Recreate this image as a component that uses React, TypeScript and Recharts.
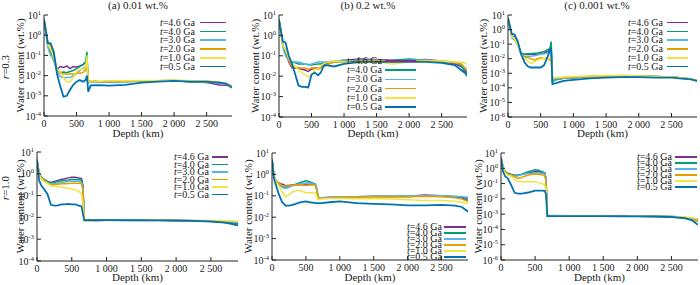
import React from 'react';
import { LineChart, Line, XAxis, YAxis, Legend } from 'recharts';

const SERIF = '"Liberation Serif", "DejaVu Serif", serif';
const INK = '#222';

// sampled depths (km), shared by every profile
const depthKm = [0, 30, 60, 100, 150, 200, 250, 300, 350, 400, 450, 500, 550, 600, 640, 660, 680, 720, 850, 1000, 1250, 1500, 1750, 2000, 2250, 2500, 2700, 2800, 2890];
const times = ['4.6', '4.0', '3.0', '2.0', '1.0', '0.5'];
const lineColors = ['#7e2f8e', '#009e73', '#56b4e9', '#e69f00', '#f0e442', '#0072b2'];
const depthTicks = [0, 500, 1000, 1500, 2000, 2500];
const ticksTo1e4 = [1e-4, 1e-3, 1e-2, 1e-1, 1, 10];
const ticksTo1e6 = [1e-6, 1e-5, 1e-4, 1e-3, 1e-2, 1e-1, 1, 10];
const titles = ['(a) 0.01 wt.%', '(b) 0.2 wt.%', '(c) 0.001 wt.%'];

// (a) r=0.3, 0.01 wt.%
const a46 = [6, 1.5, 0.3, 0.15, 0.06, 0.02, 0.028, 0.025, 0.03, 0.022, 0.028, 0.026, 0.03, 0.035, 0.045, 0.06, 0.005, 0.0055, 0.005, 0.005, 0.0052, 0.0055, 0.0055, 0.0058, 0.005, 0.0045, 0.0034, 0.0033, 0.003];
const a40 = [6, 1.5, 0.3, 0.15, 0.06, 0.02, 0.014, 0.015, 0.014, 0.016, 0.018, 0.022, 0.028, 0.035, 0.05, 0.15, 0.005, 0.0055, 0.005, 0.005, 0.005, 0.0055, 0.0055, 0.0055, 0.005, 0.0048, 0.0045, 0.004, 0.0028];
const a30 = [6, 1.4, 0.25, 0.1, 0.07, 0.015, 0.009, 0.008, 0.008, 0.008, 0.01, 0.012, 0.018, 0.022, 0.028, 0.04, 0.0045, 0.005, 0.0048, 0.0048, 0.005, 0.0052, 0.0055, 0.0055, 0.005, 0.0048, 0.0042, 0.0038, 0.003];
const a20 = [6, 1.6, 0.35, 0.35, 0.1, 0.02, 0.013, 0.012, 0.012, 0.012, 0.012, 0.013, 0.013, 0.014, 0.02, 0.05, 0.005, 0.0055, 0.005, 0.0052, 0.0052, 0.0055, 0.0055, 0.0058, 0.0052, 0.005, 0.0045, 0.004, 0.003];
const a10 = [6, 1.6, 0.35, 0.2, 0.08, 0.02, 0.016, 0.008, 0.005, 0.005, 0.008, 0.015, 0.02, 0.02, 0.025, 0.1, 0.005, 0.0055, 0.0052, 0.0055, 0.0055, 0.0058, 0.0058, 0.006, 0.0055, 0.0055, 0.0048, 0.004, 0.0025];
const a05 = [6, 1.6, 0.4, 0.4, 0.15, 0.012, 0.003, 0.0009, 0.001, 0.002, 0.0035, 0.005, 0.006, 0.005, 0.006, 0.01, 0.0016, 0.0033, 0.0034, 0.0032, 0.0035, 0.0045, 0.005, 0.0055, 0.005, 0.005, 0.0045, 0.004, 0.0025];

// (b) r=0.3, 0.2 wt.%
const b46 = [6, 1.5, 0.3, 0.15, 0.05, 0.025, 0.025, 0.025, 0.022, 0.02, 0.017, 0.022, 0.025, 0.025, 0.028, 0.03, 0.035, 0.04, 0.05, 0.06, 0.07, 0.065, 0.06, 0.06, 0.065, 0.055, 0.04, 0.03, 0.015];
const b40 = [6, 1.5, 0.3, 0.15, 0.06, 0.05, 0.045, 0.04, 0.04, 0.04, 0.038, 0.035, 0.038, 0.04, 0.04, 0.042, 0.045, 0.045, 0.05, 0.05, 0.06, 0.055, 0.06, 0.07, 0.06, 0.05, 0.045, 0.035, 0.01];
const b30 = [6, 1.4, 0.25, 0.1, 0.06, 0.05, 0.05, 0.05, 0.045, 0.04, 0.035, 0.04, 0.045, 0.05, 0.05, 0.05, 0.05, 0.05, 0.055, 0.06, 0.06, 0.06, 0.055, 0.06, 0.06, 0.055, 0.05, 0.04, 0.02];
const b20 = [6, 1.6, 0.3, 0.2, 0.06, 0.03, 0.028, 0.025, 0.025, 0.025, 0.022, 0.025, 0.025, 0.022, 0.025, 0.028, 0.03, 0.035, 0.05, 0.05, 0.055, 0.06, 0.05, 0.055, 0.06, 0.055, 0.045, 0.04, 0.02];
const b10 = [6, 1.6, 0.3, 0.2, 0.08, 0.04, 0.03, 0.02, 0.015, 0.012, 0.009, 0.012, 0.02, 0.025, 0.03, 0.035, 0.04, 0.045, 0.055, 0.05, 0.045, 0.05, 0.04, 0.05, 0.055, 0.055, 0.05, 0.05, 0.04];
const b05 = [6, 1.6, 0.5, 0.45, 0.1, 0.04, 0.012, 0.0035, 0.003, 0.003, 0.0028, 0.012, 0.015, 0.011, 0.015, 0.02, 0.03, 0.035, 0.03, 0.04, 0.05, 0.05, 0.05, 0.05, 0.05, 0.045, 0.035, 0.02, 0.012];

// (c) r=0.3, 0.001 wt.%
const c46 = [6, 1.5, 0.3, 0.3, 0.1, 0.025, 0.02, 0.02, 0.02, 0.02, 0.02, 0.022, 0.025, 0.03, 0.04, 0.05, 0.0003, 0.0004, 0.00045, 0.0005, 0.0006, 0.0006, 0.00065, 0.00065, 0.0006, 0.00055, 0.00045, 0.0004, 0.0003];
const c40 = [6, 1.5, 0.3, 0.3, 0.1, 0.025, 0.02, 0.022, 0.022, 0.024, 0.025, 0.028, 0.03, 0.04, 0.05, 0.15, 0.00025, 0.00035, 0.00045, 0.0005, 0.0006, 0.00065, 0.00065, 0.00065, 0.0006, 0.00055, 0.00045, 0.0004, 0.0003];
const c30 = [6, 1.4, 0.25, 0.2, 0.08, 0.02, 0.015, 0.015, 0.015, 0.016, 0.018, 0.02, 0.022, 0.025, 0.03, 0.04, 0.0003, 0.0004, 0.00045, 0.0005, 0.0006, 0.00065, 0.00065, 0.00065, 0.0006, 0.00055, 0.00045, 0.0004, 0.0003];
const c20 = [6, 1.6, 0.3, 0.3, 0.1, 0.02, 0.012, 0.012, 0.01, 0.008, 0.01, 0.012, 0.01, 0.012, 0.008, 0.01, 0.0004, 0.0005, 0.0005, 0.00055, 0.0006, 0.00065, 0.0007, 0.00065, 0.0006, 0.00055, 0.00045, 0.0004, 0.0003];
const c10 = [6, 1.6, 0.3, 0.25, 0.08, 0.02, 0.01, 0.007, 0.005, 0.006, 0.008, 0.01, 0.01, 0.01, 0.01, 0.012, 0.00045, 0.0005, 0.00055, 0.0006, 0.00065, 0.0007, 0.0007, 0.00065, 0.0006, 0.00055, 0.00045, 0.0004, 0.0003];
const c05 = [6, 1.6, 0.5, 0.45, 0.15, 0.02, 0.006, 0.003, 0.0025, 0.0025, 0.0025, 0.0025, 0.0035, 0.012, 0.035, 0.045, 0.00018, 0.0002, 0.0003, 0.00035, 0.00045, 0.0005, 0.00055, 0.00055, 0.0005, 0.0005, 0.00042, 0.00038, 0.0003];

// (d) r=1.0, 0.01 wt.%
const d46 = [4.5, 1.1, 0.7, 0.55, 0.45, 0.4, 0.45, 0.5, 0.55, 0.6, 0.65, 0.7, 0.7, 0.65, 0.6, 0.3, 0.0075, 0.0075, 0.0075, 0.0075, 0.0075, 0.0075, 0.0075, 0.0073, 0.007, 0.0068, 0.006, 0.0055, 0.005];
const d40 = [4.5, 1.1, 0.7, 0.55, 0.45, 0.38, 0.4, 0.45, 0.48, 0.5, 0.52, 0.55, 0.55, 0.55, 0.5, 0.25, 0.0075, 0.0075, 0.0074, 0.0075, 0.0075, 0.0074, 0.0074, 0.0072, 0.007, 0.0066, 0.006, 0.0055, 0.0048];
const d30 = [4.5, 1.0, 0.65, 0.5, 0.4, 0.33, 0.35, 0.38, 0.4, 0.42, 0.45, 0.45, 0.45, 0.45, 0.4, 0.2, 0.007, 0.0072, 0.0073, 0.0074, 0.0074, 0.0074, 0.0074, 0.0073, 0.0072, 0.007, 0.0066, 0.0063, 0.006];
const d20 = [4.5, 1.0, 0.65, 0.5, 0.38, 0.3, 0.32, 0.33, 0.35, 0.35, 0.36, 0.37, 0.37, 0.37, 0.35, 0.2, 0.007, 0.0072, 0.0073, 0.0074, 0.0074, 0.0073, 0.0073, 0.0072, 0.007, 0.0066, 0.0058, 0.005, 0.0043];
const d10 = [4.5, 1.0, 0.6, 0.45, 0.35, 0.28, 0.27, 0.26, 0.25, 0.23, 0.22, 0.2, 0.18, 0.16, 0.12, 0.05, 0.007, 0.0072, 0.0073, 0.0074, 0.0075, 0.0075, 0.0075, 0.0074, 0.0073, 0.0072, 0.007, 0.0068, 0.0066];
const d05 = [4.5, 0.5, 0.3, 0.2, 0.12, 0.038, 0.035, 0.036, 0.04, 0.04, 0.042, 0.04, 0.04, 0.035, 0.032, 0.015, 0.0075, 0.0075, 0.0074, 0.0075, 0.0074, 0.0074, 0.0073, 0.0072, 0.007, 0.0065, 0.0058, 0.005, 0.0043];

// (e) r=1.0, 0.2 wt.%
const e46 = [5, 0.8, 0.5, 0.4, 0.35, 0.3, 0.3, 0.32, 0.33, 0.33, 0.33, 0.35, 0.35, 0.35, 0.33, 0.2, 0.085, 0.08, 0.085, 0.09, 0.09, 0.095, 0.095, 0.095, 0.11, 0.1, 0.09, 0.08, 0.06];
const e40 = [5, 0.8, 0.5, 0.35, 0.3, 0.25, 0.28, 0.3, 0.35, 0.4, 0.45, 0.5, 0.45, 0.4, 0.35, 0.2, 0.08, 0.08, 0.08, 0.085, 0.09, 0.09, 0.09, 0.09, 0.1, 0.095, 0.09, 0.085, 0.075];
const e30 = [5, 0.8, 0.5, 0.35, 0.25, 0.22, 0.25, 0.3, 0.32, 0.35, 0.38, 0.4, 0.4, 0.38, 0.33, 0.2, 0.08, 0.08, 0.085, 0.09, 0.09, 0.095, 0.095, 0.1, 0.1, 0.1, 0.095, 0.09, 0.085];
const e20 = [5, 0.8, 0.5, 0.4, 0.3, 0.28, 0.3, 0.3, 0.32, 0.33, 0.33, 0.3, 0.32, 0.33, 0.3, 0.18, 0.08, 0.075, 0.08, 0.085, 0.085, 0.09, 0.09, 0.09, 0.095, 0.09, 0.08, 0.07, 0.055];
const e10 = [5, 0.8, 0.45, 0.3, 0.15, 0.09, 0.11, 0.15, 0.17, 0.18, 0.16, 0.14, 0.14, 0.14, 0.13, 0.1, 0.065, 0.07, 0.075, 0.075, 0.072, 0.075, 0.07, 0.065, 0.06, 0.06, 0.055, 0.05, 0.045];
const e05 = [5, 0.6, 0.3, 0.12, 0.05, 0.035, 0.035, 0.038, 0.042, 0.048, 0.052, 0.055, 0.05, 0.048, 0.045, 0.045, 0.045, 0.045, 0.05, 0.055, 0.045, 0.042, 0.04, 0.036, 0.036, 0.038, 0.035, 0.03, 0.018];

// (f) r=1.0, 0.001 wt.%
const f46 = [5, 1.2, 0.6, 0.45, 0.4, 0.35, 0.35, 0.4, 0.45, 0.5, 0.55, 0.6, 0.6, 0.55, 0.5, 0.2, 0.00075, 0.00075, 0.00075, 0.00075, 0.00075, 0.00075, 0.00075, 0.00075, 0.00072, 0.0007, 0.00055, 0.00045, 0.0004];
const f40 = [5, 1.2, 0.6, 0.45, 0.38, 0.32, 0.35, 0.4, 0.5, 0.6, 0.7, 0.8, 0.75, 0.6, 0.5, 0.2, 0.00075, 0.00076, 0.00076, 0.00076, 0.00075, 0.00075, 0.00075, 0.00074, 0.0007, 0.00068, 0.00055, 0.00042, 0.00035];
const f30 = [5, 1.1, 0.55, 0.4, 0.35, 0.3, 0.33, 0.38, 0.42, 0.45, 0.48, 0.5, 0.5, 0.48, 0.45, 0.2, 0.0008, 0.0008, 0.0008, 0.00078, 0.00078, 0.00078, 0.00077, 0.00076, 0.00075, 0.00072, 0.0006, 0.0005, 0.00042];
const f20 = [5, 1.1, 0.55, 0.4, 0.35, 0.28, 0.22, 0.25, 0.3, 0.35, 0.4, 0.4, 0.4, 0.38, 0.35, 0.15, 0.00075, 0.00075, 0.00075, 0.00075, 0.00075, 0.00074, 0.00074, 0.00073, 0.0007, 0.00068, 0.00052, 0.00042, 0.00035];
const f10 = [5, 1.1, 0.5, 0.35, 0.3, 0.18, 0.14, 0.13, 0.13, 0.13, 0.13, 0.13, 0.12, 0.1, 0.08, 0.05, 0.00075, 0.00075, 0.00075, 0.00076, 0.00076, 0.00076, 0.00076, 0.00075, 0.00074, 0.00072, 0.00065, 0.00058, 0.0005];
const f05 = [5, 0.6, 0.3, 0.22, 0.08, 0.025, 0.022, 0.022, 0.024, 0.026, 0.03, 0.035, 0.035, 0.035, 0.034, 0.02, 0.00075, 0.00075, 0.00074, 0.00074, 0.00074, 0.00074, 0.00073, 0.00072, 0.0007, 0.00065, 0.00055, 0.0004, 0.0002];

// layout of the six panels on the 700x285 page
const panels = [
  { series: [a46, a40, a30, a20, a10, a05], yTicks: ticksTo1e4, x0: -3, y0: 0, w: 237, h: 140, plot: { l: 44, r: 232, t: 15, b: 116 }, labelOff: 3, lg: { right: 226, top: 22.7, rowH: 8.8, lineW: 26, gap: 5 } },
  { series: [b46, b40, b30, b20, b10, b05], yTicks: ticksTo1e4, x0: 231, y0: 0, w: 238, h: 140, plot: { l: 279, r: 467, t: 15, b: 117 }, labelOff: 3, lg: { right: 416, top: 61, rowH: 9.2, lineW: 31, gap: 3 } },
  { series: [c46, c40, c30, c20, c10, c05], yTicks: ticksTo1e6, x0: 458, y0: 0, w: 242, h: 140, plot: { l: 508, r: 697, t: 15, b: 117 }, labelOff: 3, lg: { right: 688, top: 22.7, rowH: 8.8, lineW: 21, gap: 4 } },
  { series: [d46, d40, d30, d20, d10, d05], yTicks: ticksTo1e4, x0: 3, y0: 142, w: 237, h: 143, plot: { l: 37, r: 238, t: 152, b: 261 }, labelOff: 4, lg: { right: 228, top: 157, rowH: 7.5, lineW: 16, gap: 3 } },
  { series: [e46, e40, e30, e20, e10, e05], yTicks: ticksTo1e4, x0: 224, y0: 142, w: 246, h: 143, plot: { l: 272, r: 468, t: 153, b: 260 }, labelOff: 4, lg: { right: 466, top: 227, rowH: 6, lineW: 22, gap: 2 } },
  { series: [f46, f40, f30, f20, f10, f05], yTicks: ticksTo1e6, x0: 455, y0: 142, w: 245, h: 143, plot: { l: 501, r: 698, t: 153, b: 260 }, labelOff: 4, lg: { right: 697, top: 157, rowH: 6, lineW: 22, gap: 3 } },
];

const fmtDepth = (v: number) =>
  v >= 1000 ? Math.floor(v / 1000) + ' ' + String(v % 1000).padStart(3, '0') : String(v);

function PowTick(props: any) {
  const { x, y, payload } = props;
  const e = Math.round(Math.log10(payload.value));
  return (
    <text x={x} y={y} dy={3.5} textAnchor="end" fontSize={10} fill={INK} fontFamily={SERIF}>
      10<tspan dy={-4} fontSize={6.5}>{e}</tspan>
    </text>
  );
}

function TimeLegend({ rowH, lineW, gap }: { rowH: number; lineW: number; gap: number }) {
  return (
    <div style={{ fontFamily: SERIF, fontSize: 10, color: INK, lineHeight: 1 }}>
      {times.map((t, i) => (
        <div key={t} style={{ position: 'relative', height: rowH, overflow: 'visible' }}>
          <div style={{ position: 'absolute', right: lineW + gap, top: rowH / 2 - 5, height: 10, lineHeight: '10px', whiteSpace: 'nowrap' }}>
            <i>t</i>={t} Ga
          </div>
          <div style={{ position: 'absolute', right: 0, top: rowH / 2 - 0.8, width: lineW, height: 1.6, background: lineColors[i] }} />
        </div>
      ))}
    </div>
  );
}

function Panel({ p }: { p: any }) {
  const rows = depthKm.map((d, i) => {
    const row: Record<string, number> = { depth: d };
    p.series.forEach((s: number[], k: number) => { row['t' + k] = s[i]; });
    return row;
  });
  const yW = p.plot.l - p.x0;
  const xH = p.y0 + p.h - p.plot.b;
  const margin = { top: p.plot.t - p.y0, right: p.x0 + p.w - p.plot.r, left: 0, bottom: 0 };
  const yDomain = [p.yTicks[0], 10];
  const lg = p.lg;
  const lgW = 95;

  return (
    <div style={{ position: 'absolute', left: p.x0, top: p.y0 }}>
      <LineChart width={p.w} height={p.h} data={rows} margin={margin}>
        <XAxis
          dataKey="depth" type="number" domain={[0, 2890]} ticks={depthTicks} interval={0} allowDataOverflow
          tickFormatter={fmtDepth} tick={{ fontSize: 10, fill: INK, fontFamily: SERIF }}
          tickSize={-4} tickMargin={8} height={xH} stroke={INK}
          label={{ value: 'Depth (km)', position: 'insideBottom', offset: p.labelOff, fontSize: 11, fill: INK, fontFamily: SERIF }}
        />
        <XAxis xAxisId="top" orientation="top" type="number" domain={[0, 2890]} ticks={depthTicks} interval={0} allowDataOverflow
          height={0} tick={false} tickSize={-4} stroke={INK} />
        <YAxis
          type="number" scale="log" domain={yDomain} ticks={p.yTicks} interval={0} allowDataOverflow
          width={yW} tick={<PowTick />} tickSize={-4} tickMargin={7} stroke={INK}
          label={{ value: 'Water content (wt.%)', angle: -90, position: 'center', fontSize: 11, fill: INK, fontFamily: SERIF }}
        />
        <YAxis yAxisId="right" orientation="right" type="number" scale="log" domain={yDomain} ticks={p.yTicks} interval={0} allowDataOverflow
          width={0} tick={false} tickSize={-4} stroke={INK} />
        <Legend
          layout="horizontal" verticalAlign="middle" align="center"
          content={() => <TimeLegend rowH={lg.rowH} lineW={lg.lineW} gap={lg.gap} />}
          wrapperStyle={{ position: 'absolute', left: lg.right - p.x0 - lgW, top: lg.top - lg.rowH / 2 - p.y0, width: lgW, height: lg.rowH * 6 }}
        />
        {p.series.map((_: number[], k: number) => (
          <Line key={k} type="linear" dataKey={'t' + k} stroke={lineColors[k]} strokeWidth={k === 5 ? 1.8 : 1.5}
            dot={false} activeDot={false} isAnimationActive={false} />
        ))}
      </LineChart>
    </div>
  );
}

export default function App() {
  const titleX = [138, 368, 597];
  const rowLabel = (text: string, y: number) => (
    <div style={{ position: 'absolute', left: 5, top: y, transform: 'translate(-50%, -50%) rotate(-90deg)', fontFamily: SERIF, fontSize: 11, color: INK, whiteSpace: 'nowrap' }}>
      <i>r</i>={text}
    </div>
  );
  return (
    <div style={{ position: 'absolute', left: 0, top: 0, width: 700, height: 285, background: '#fff', overflow: 'hidden' }}>
      {panels.map((p, i) => <Panel key={i} p={p} />)}
      {titles.map((t, i) => (
        <div key={t} style={{ position: 'absolute', left: titleX[i], top: 5, transform: 'translate(-50%, -50%)', fontFamily: SERIF, fontSize: 11, color: INK, whiteSpace: 'nowrap' }}>
          {t}
        </div>
      ))}
      {rowLabel('0.3', 67)}
      {rowLabel('1.0', 188)}
    </div>
  );
}
